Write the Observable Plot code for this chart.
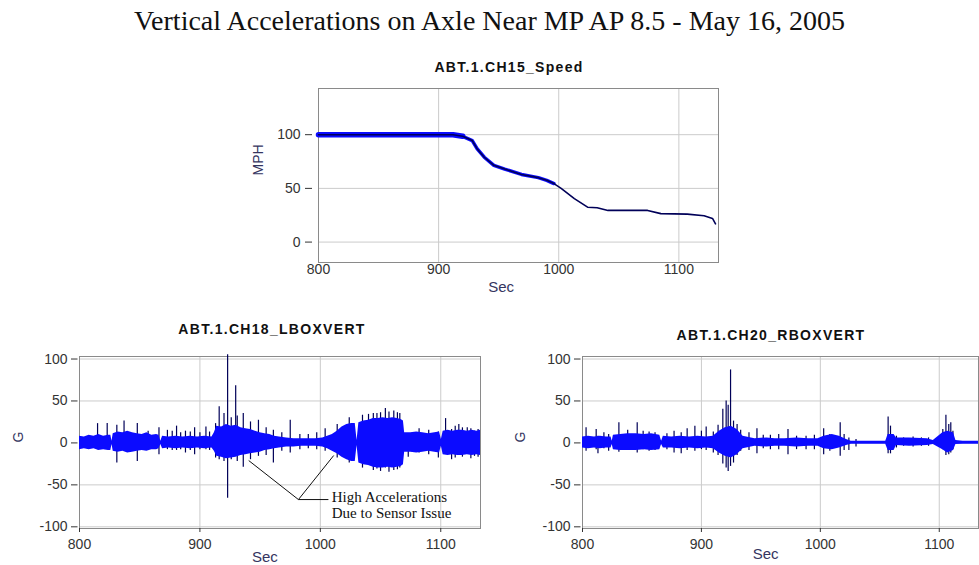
<!DOCTYPE html>
<html><head><meta charset="utf-8">
<script src="https://cdn.jsdelivr.net/npm/d3@7"></script>
<script src="https://cdn.jsdelivr.net/npm/@observablehq/plot@0.6"></script>
<style>
html,body{margin:0;padding:0;background:#fff;width:979px;height:565px;overflow:hidden;position:relative;}
.abs{position:absolute;}
#title{left:0;width:979px;top:5px;text-align:center;font-family:"Liberation Serif","Times New Roman",serif;font-size:28px;color:#111;white-space:nowrap;}
.sub{font-family:"Liberation Sans",Arial,sans-serif;font-weight:bold;font-size:14px;letter-spacing:1.3px;color:#111;white-space:nowrap;transform:translate(-50%,-50%);}
</style></head><body>
<div id="title" class="abs">Vertical Accelerations on Axle Near MP AP 8.5 - May 16, 2005</div>
<div class="abs sub" style="left:509px;top:67px">ABT.1.CH15_Speed</div>
<div class="abs sub" style="left:272px;top:329px">ABT.1.CH18_LBOXVERT</div>
<div class="abs sub" style="left:771px;top:335px">ABT.1.CH20_RBOXVERT</div>
<div id="c1" class="abs" style="left:238px;top:80px"></div>
<div id="c2" class="abs" style="left:0px;top:345px"></div>
<div id="c3" class="abs" style="left:502px;top:345px"></div>
<script>
// ---- tick values ----
const secTicks = [800, 900, 1000, 1100];
const mphTicks = [0, 50, 100];
const gTicks = [-100, -50, 0, 50, 100];

// ---- speed (MPH) ----
const sTime = [800, 912, 920, 928, 932, 938, 946, 955, 969, 983, 990, 996, 1002, 1013, 1024, 1032, 1041, 1074, 1085, 1107, 1121, 1128, 1130.5];
const sMph  = [100, 100, 98.5, 94.5, 87, 79, 71.5, 68, 63, 60, 57.5, 54.5, 50, 40.5, 32.5, 32, 29.5, 29.5, 26.5, 26, 24.5, 22, 17];

// ---- LBOXVERT envelope (G) ----
const lTime  = [800, 804, 808, 812, 816, 820, 824, 826, 827, 828, 832, 836, 840, 844, 848, 852, 856, 860, 864, 866, 867.5, 869, 874, 880, 886, 892, 898, 904, 910, 912, 914, 918, 922, 926, 930, 934, 938, 942, 946, 950, 954, 958, 962, 966, 972, 978, 984, 990, 996, 1002, 1006, 1010, 1014, 1018, 1022, 1026, 1029, 1030.5, 1032, 1036, 1040, 1044, 1048, 1052, 1056, 1060, 1064, 1067, 1069, 1070, 1075, 1080, 1085, 1090, 1095, 1099, 1100.5, 1102, 1106, 1110, 1114, 1118, 1122, 1126, 1130, 1133];
const lUpper = [8, 7, 9, 8, 10, 8, 9, 9, 2, 11, 13, 12, 14, 12, 11, 10, 12, 9, 10, 9, 2, 8, 7, 8, 7, 8, 7, 8, 7, 12, 20, 19, 22, 20, 21, 18, 17, 16, 14, 12, 11, 10, 8, 7, 6, 5, 5, 5, 5, 6, 8, 10, 14, 19, 22, 23, 23, 3, 24, 26, 27, 29, 29, 30, 29, 30, 29, 28, 26, 12, 12, 13, 12, 11, 12, 13, 4, 14, 15, 14, 15, 15, 14, 15, 14, 15];
const lLower = [-8, -7, -8, -7, -9, -8, -9, -9, -2, -10, -11, -10, -12, -11, -10, -9, -10, -8, -8, -7, -2, -7, -6, -7, -6, -7, -6, -7, -6, -10, -16, -17, -19, -18, -17, -15, -14, -13, -12, -11, -9, -8, -7, -6, -5, -5, -4, -4, -4, -5, -7, -10, -13, -17, -20, -22, -22, -3, -24, -26, -27, -29, -30, -30, -29, -30, -29, -28, -26, -11, -11, -12, -11, -10, -11, -12, -4, -14, -15, -14, -15, -15, -14, -15, -14, -15];
// spikes: time, low, high
const lSpikeT  = [815, 823, 831, 837, 848, 857, 866, 873, 877, 880.6, 884, 888, 892, 895.6, 900, 905, 908, 913, 916, 920, 923, 926, 929.7, 931, 936, 942, 948.6, 955, 961, 968, 975, 983, 990, 997, 1004, 1014, 1024, 1035, 1040, 1044, 1047, 1050, 1054, 1057, 1061, 1064, 1066, 1073, 1082, 1090, 1098, 1104, 1109, 1112, 1115, 1118, 1122, 1125, 1128, 1131];
const lSpikeLo = [-8, -7, -24, -10, -22, -8, -14, -8, -9, -9, -8, -12, -9, -14, -8, -8, -9, -18, -20, -22, -66, -20, -15, -22, -29, -20, -16, -15, -24, -10, -12, -8, -7, -8, -10, -18, -24, -30, -26, -33, -31, -34, -30, -35, -33, -32, -30, -17, -12, -14, -18, -13, -20, -18, -14, -17, -12, -19, -16, -17];
const lSpikeHi = [23, 23, 21, 26, 23, 14, 18, 15, 14, 20, 12, 14, 13, 18, 12, 19, 13, 23, 43, 35, 105, 30, 68, 32, 35, 25, 27, 18, 15, 12, 27, 10, 10, 12, 17, 22, 30, 33, 34, 35, 35, 36, 41, 37, 38, 36, 35, 10, 17, 15, 13, 29, 16, 20, 22, 18, 18, 17, 14, 16];

// ---- RBOXVERT envelope (G) ----
const rTime  = [800, 805, 810, 815, 820, 824, 825, 826, 832, 838, 845, 852, 858, 865, 866.5, 868, 875, 882, 890, 897, 904, 910, 915, 920, 925, 930, 935, 945, 955, 962, 970, 980, 990, 998, 1003, 1010, 1016, 1022, 1026, 1040, 1055, 1057, 1062, 1064, 1075, 1090, 1095, 1103, 1107, 1112, 1114, 1120, 1133];
const rUpper = [7, 8, 7, 8, 7, 7, 2, 9, 10, 11, 11, 10, 11, 9, 2, 8, 7, 8, 7, 8, 7, 8, 14, 18, 20, 16, 8, 5, 6, 5, 5, 6, 5, 5, 8, 10, 8, 4, 2, 2, 2, 10, 10, 6, 6, 5, 3, 12, 14, 12, 3, 2, 2];
const rLower = [-6, -7, -6, -7, -6, -6, -2, -8, -9, -9, -9, -8, -9, -8, -2, -6, -6, -7, -6, -7, -6, -7, -12, -16, -18, -14, -7, -4, -5, -4, -4, -5, -4, -4, -7, -8, -6, -3, -1.5, -1.5, -1.5, -9, -9, -3, -4, -3, -2, -8, -12, -9, -2, -1.5, -1.5];
const rSpikeT  = [803, 811.5, 813, 818, 822, 830.6, 838, 846, 851, 856, 861, 871, 877, 883, 888, 894.5, 900, 904, 910, 914, 918, 920.8, 922.5, 924.5, 927, 930, 933, 940, 946.7, 952, 958, 965, 972.8, 980, 988, 995, 1002.8, 1008, 1016.7, 1020, 1024, 1030, 1057, 1059, 1064, 1070, 1078, 1085, 1091, 1103, 1105.6, 1108, 1109.7, 1111.5];
const rSpikeLo = [-10, -8, -13, -7, -10, -11, -9, -12, -8, -10, -9, -8, -12, -13, -9, -10, -8, -9, -12, -15, -25, -30, -34, -28, -24, -15, -10, -9, -13, -7, -8, -8, -14, -8, -8, -8, -14, -10, -16, -9, -9, -5, -13, -13, -6, -4, -5, -4, -4, -8, -15, -14, -12, -8];
const rSpikeHi = [18, 16, 8, 12, 10, 24, 15, 24, 14, 13, 12, 11, 14, 12, 17, 20, 14, 19, 13, 21, 40, 50, 45, 87, 26, 22, 15, 12, 17, 9, 9, 10, 16, 8, 8, 9, 17, 10, 24, 10, 6, 4, 31, 20, 8, 6, 7, 6, 6, 16, 33, 22, 24, 14];

// ---- annotation (LBOXVERT) ----
const annoText = ["High Accelerations", "Due to Sensor Issue"];
const annoTextX = [1009.5, 1009.5];
const annoTextY = [-65, -84];
const annoX1 = [981.8, 981.8, 981.8];
const annoY1 = [-67.5, -67.5, -67.5];
const annoX2 = [940.5, 1011.1, 1006.7];
const annoY2 = [-21, -15, -67.5];

// ---- build tables ----
const speed = sTime.map((t, i) => ({t, v: sMph[i]}));
const lEnv = lTime.map((t, i) => ({t, hi: lUpper[i], lo: lLower[i]}));
const lSp = lSpikeT.map((t, i) => ({t, lo: lSpikeLo[i], hi: lSpikeHi[i]}));
const rEnv = rTime.map((t, i) => ({t, hi: rUpper[i], lo: rLower[i]}));
const rSp = rSpikeT.map((t, i) => ({t, lo: rSpikeLo[i], hi: rSpikeHi[i]}));
const anno = annoX1.map((x, i) => ({x1: x, y1: annoY1[i], x2: annoX2[i], y2: annoY2[i]}));
const annoLbl = annoText.map((s, i) => ({s, x: annoTextX[i], y: annoTextY[i]}));

const FONT = "'Liberation Sans', Arial, sans-serif";
const BLUE = "#0b0bff";
const NAVY = "#000058";
const GRID = "#cbcbcb";
const FRAME = "#8a8a8a";
const LBLC = "#35355f";
const fmt = d => String(d);

const c1 = Plot.plot({
  width: 500, height: 222, marginLeft: 80, marginRight: 20, marginTop: 8, marginBottom: 40,
  style: {fontFamily: FONT, fontSize: "14px", color: "#333", background: "white", overflow: "visible"},
  x: {domain: [800, 1133]},
  y: {domain: [-19, 143]},
  marks: [
    Plot.gridX(secTicks, {stroke: GRID, strokeOpacity: 1}),
    Plot.gridY(mphTicks, {stroke: GRID, strokeOpacity: 1}),
    Plot.frame({stroke: FRAME}),
    Plot.axisY(mphTicks, {tickSize: 7, dx: -6, tickPadding: 5, label: null, tickFormat: fmt}),
    Plot.axisX(secTicks, {tickSize: 0, tickPadding: 2, label: null, tickFormat: fmt}),
    Plot.line(speed.filter(d => d.t <= 920), {x: "t", y: "v", stroke: BLUE, strokeWidth: 5.5}),
    Plot.line(speed.filter(d => d.t >= 912 && d.t <= 996), {x: "t", y: "v", stroke: BLUE, strokeWidth: 3.5}),
    Plot.line(speed, {x: "t", y: "v", stroke: NAVY, strokeWidth: 1.6}),
    Plot.text(["MPH"], {frameAnchor: "left", dx: -60, rotate: -90, fill: LBLC, fontSize: 14}),
    Plot.text(["Sec"], {x: () => 952, frameAnchor: "bottom", dy: 29, fill: LBLC, fontSize: 15})
  ]
});
document.getElementById("c1").appendChild(c1);

function accel(env, sp, opts) {
  const marks = [
    Plot.gridX(secTicks, {stroke: GRID, strokeOpacity: 1}),
    Plot.gridY(gTicks, {stroke: GRID, strokeOpacity: 1}),
    Plot.frame({stroke: FRAME}),
    Plot.axisY(gTicks, {tickSize: 6.5, dx: -1.5, tickPadding: 4, label: null, tickFormat: fmt}),
    Plot.axisX(secTicks, {tickSize: 4, tickPadding: 7, label: null, tickFormat: fmt}),
    Plot.ruleX(sp, {x: "t", y1: "lo", y2: "hi", stroke: NAVY, strokeWidth: 1.2}),
    Plot.areaY(env, {x: "t", y1: "lo", y2: "hi", fill: BLUE}),
    Plot.text(["G"], {frameAnchor: "left", dx: opts.gdx, rotate: -90, fill: LBLC, fontSize: 14}),
    Plot.text(["Sec"], {x: () => opts.secX, frameAnchor: "bottom", dy: opts.secDy, fill: LBLC, fontSize: 15})
  ];
  if (opts.extra) marks.push(...opts.extra);
  return Plot.plot({
    width: opts.width, height: 218, marginLeft: opts.ml, marginRight: opts.mr, marginTop: 11, marginBottom: 35,
    style: {fontFamily: FONT, fontSize: "14px", color: "#333", background: "white", overflow: "visible"},
    x: {domain: [800, 1133]},
    y: {domain: [-102, 103]},
    marks
  });
}

const c2 = accel(lEnv, lSp, {
  width: 490, ml: 79, mr: 10, gdx: -61, secX: 954, secDy: 33,
  extra: [
    Plot.link(anno, {x1: "x1", y1: "y1", x2: "x2", y2: "y2", stroke: "#111", strokeWidth: 1}),
    Plot.text(annoLbl, {x: "x", y: "y", text: "s", textAnchor: "start",
      fontFamily: "'Liberation Serif', 'Times New Roman', serif", fontSize: 15, fill: "#111", letterSpacing: "0.6px"})
  ]
});
document.getElementById("c2").appendChild(c2);

const c3 = accel(rEnv, rSp, {width: 477, ml: 80, mr: 1, gdx: -62, secX: 954, secDy: 30});
document.getElementById("c3").appendChild(c3);
</script>
</body></html>
